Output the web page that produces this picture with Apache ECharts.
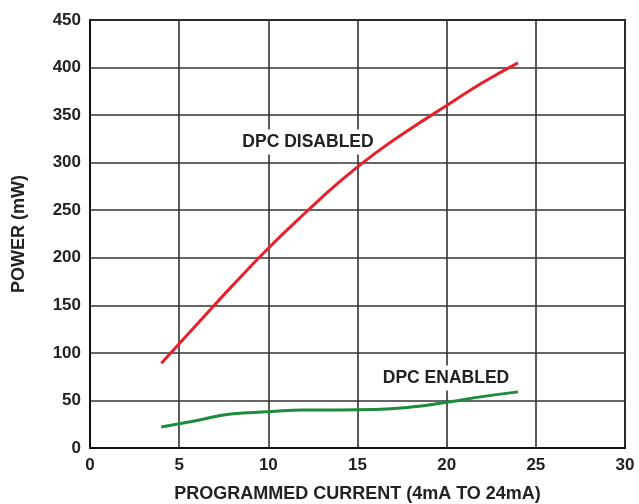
<!DOCTYPE html>
<html>
<head>
<meta charset="utf-8">
<script src="https://cdn.jsdelivr.net/npm/echarts@6/dist/echarts.min.js"></script>
<style>html,body{margin:0;padding:0;background:#fff;}#c{width:639px;height:504px;}</style>
</head>
<body>
<div id="c"></div>
<script>
var disabledData = [[4,89],[6,130],[8,171],[10,210],[12,246],[14,280],[16,310],[18,336],[20,360],[22,384],[24,405]];
var enabledData = [[4,22],[6,29],[8,36],[10,38],[12,40],[14,40],[16,40.5],[18,43],[20,48],[22,54],[24,59]];
var xTicks = [0,5,10,15,20,25,30];
var yTicks = [0,50,100,150,200,250,300,350,400,450];
var labels = ["DPC DISABLED","DPC ENABLED"];
var xName = "PROGRAMMED CURRENT (4mA TO 24mA)";
var yName = "POWER (mW)";

var font = 'Liberation Sans, Arial, sans-serif';
var chart = echarts.init(document.getElementById('c'), null, {renderer:'canvas'});
chart.setOption({
  animation:false,
  backgroundColor:'#fff',
  grid:{left:90,top:20,right:14,bottom:56,outerBoundsMode:'none',containLabel:false,show:true,borderColor:'#111',borderWidth:2,backgroundColor:'transparent'},
  xAxis:{type:'value',min:xTicks[0],max:xTicks[xTicks.length-1],interval:5,
    name:xName,nameLocation:'middle',nameGap:37,
    nameTextStyle:{fontFamily:font,fontWeight:'bold',fontSize:18,color:'#222'},
    axisLine:{show:true,lineStyle:{color:'#111',width:2}},
    axisTick:{show:false},
    axisLabel:{fontFamily:font,fontWeight:'bold',fontSize:17,color:'#222',margin:9},
    splitLine:{show:true,lineStyle:{color:'#333',width:1.6}}},
  yAxis:{type:'value',min:yTicks[0],max:yTicks[yTicks.length-1],interval:50,
    name:yName,nameLocation:'middle',nameGap:62,nameRotate:90,
    nameTextStyle:{fontFamily:font,fontWeight:'bold',fontSize:18,color:'#222'},
    axisLine:{show:true,lineStyle:{color:'#111',width:2}},
    axisTick:{show:false},
    axisLabel:{fontFamily:font,fontWeight:'bold',fontSize:17,color:'#222',margin:9},
    splitLine:{show:true,lineStyle:{color:'#333',width:1.6}}},
  series:[
    {type:'line',data:disabledData,smooth:true,showSymbol:false,lineStyle:{color:'#e8202c',width:3},z:5},
    {type:'line',data:enabledData,smooth:true,showSymbol:false,lineStyle:{color:'#1a8c3c',width:3},z:5}
  ],
  graphic:[
    {type:'text',x:308,y:142,z:1,style:{text:labels[0],fontFamily:font,fontWeight:'bold',fontSize:17.5,fill:'#222',align:'center',verticalAlign:'middle',backgroundColor:'#fff',padding:[4,3,3,3]}},
    {type:'text',x:446,y:378,z:1,style:{text:labels[1],fontFamily:font,fontWeight:'bold',fontSize:17.5,fill:'#222',align:'center',verticalAlign:'middle',backgroundColor:'#fff',padding:[4,3,3,3]}}
  ]
});
</script>
</body>
</html>
